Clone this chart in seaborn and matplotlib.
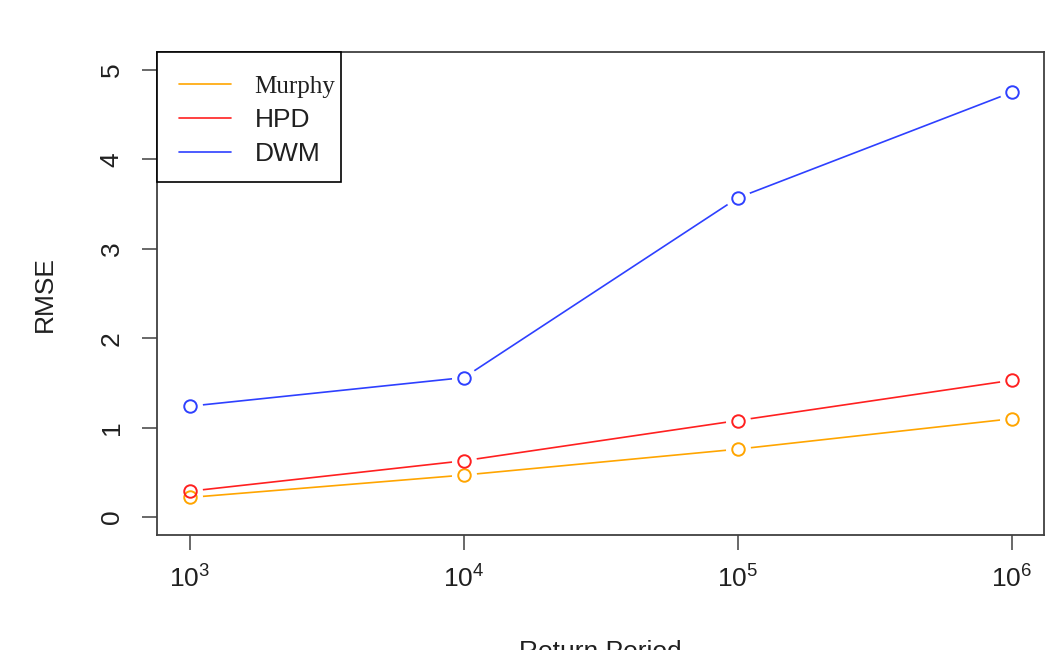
import matplotlib
matplotlib.use("Agg")
import matplotlib.pyplot as plt
import seaborn as sns
import pandas as pd
from matplotlib.lines import Line2D
from matplotlib.patches import Rectangle
from matplotlib.ticker import FixedLocator, FixedFormatter, NullLocator

# ---- data ----
return_period = [1e3, 1e4, 1e5, 1e6]
murphy = [0.22, 0.47, 0.76, 1.10]
hpd = [0.29, 0.63, 1.08, 1.53]
dwm = [1.24, 1.56, 3.57, 4.75]
series_names = ["Murphy", "HPD", "DWM"]
series_colors = ["#FFA500", "#FF2020", "#2E40FF"]
xtick_labels = [r"$\mathregular{10^{3}}$", r"$\mathregular{10^{4}}$",
                r"$\mathregular{10^{5}}$", r"$\mathregular{10^{6}}$"]
ytick_values = [0, 1, 2, 3, 4, 5]

sns.set_theme(style="white")
plt.rcParams["font.family"] = ["Liberation Sans", "DejaVu Sans"]
plt.rcParams["mathtext.fontset"] = "custom"
plt.rcParams["mathtext.rm"] = "Liberation Sans"

fig = plt.figure(figsize=(10.45, 6.5), dpi=100)
ax = fig.add_axes([157/1045, 1-535/650, (1044-157)/1045, (535-52)/650])

df = pd.DataFrame({
    "x": return_period * 3,
    "y": murphy + hpd + dwm,
    "s": sum([[n] * 4 for n in series_names], []),
})

for name, col in zip(series_names, series_colors):
    sub = df[df.s == name]
    sns.lineplot(data=sub, x="x", y="y", color=col, lw=1.2, ax=ax,
                 legend=False, zorder=2)
    # white halo to create gaps like R type="b"
    ax.plot(sub.x, sub.y, "o", ms=17, mfc="white", mec="white", zorder=3)
    ax.plot(sub.x, sub.y, "o", ms=9, mfc="none", mec=col, mew=1.4, zorder=4)

ax.set_xscale("log")
ax.set_xlim(10**2.88, 10**6.117)
ax.set_ylim(-0.2, 5.2)
ax.xaxis.set_major_locator(FixedLocator(return_period))
ax.xaxis.set_major_formatter(FixedFormatter(xtick_labels))
ax.xaxis.set_minor_locator(NullLocator())
ax.set_yticks(ytick_values)
ax.set_yticklabels([str(v) for v in ytick_values], rotation=90, va="center")

for sp in ax.spines.values():
    sp.set_color("#404040")
    sp.set_linewidth(1.3)
    sp.set_visible(True)

ax.tick_params(axis="both", which="major", direction="out", length=11,
               width=1.1, color="#404040", labelsize=19, labelcolor="#202020",
               bottom=True, left=True)
ax.tick_params(axis="x", pad=11)
ax.tick_params(axis="y", pad=13)

ax.set_xlabel("Return Period", fontsize=19, color="#202020")
ax.xaxis.set_label_coords(0.5, -0.218)
ax.set_ylabel("RMSE", fontsize=19, color="#202020")
ax.yaxis.set_label_coords(-0.113, 0.5)

handles = [Line2D([0], [0], color=c, lw=1.2) for c in series_colors]
leg = ax.legend(handles, series_names, loc="upper left", bbox_to_anchor=(0, 1),
                borderaxespad=0, frameon=False, fontsize=19,
                handlelength=1.95, handletextpad=0.9, borderpad=0.85,
                labelspacing=0.38)
for t in leg.get_texts():
    t.set_color("#202020")
leg.get_texts()[0].set_family(["Liberation Serif"])
leg.get_texts()[0].set_fontsize(18)
leg.set_zorder(6)
# R-style legend frame (tight on the right)
ax.add_patch(Rectangle((0, (535-182)/483), 184/887, 1-(535-182)/483,
                       transform=ax.transAxes, facecolor="white",
                       edgecolor="black", lw=1.2, zorder=5, clip_on=False))

fig.savefig("out.png", dpi=100)
